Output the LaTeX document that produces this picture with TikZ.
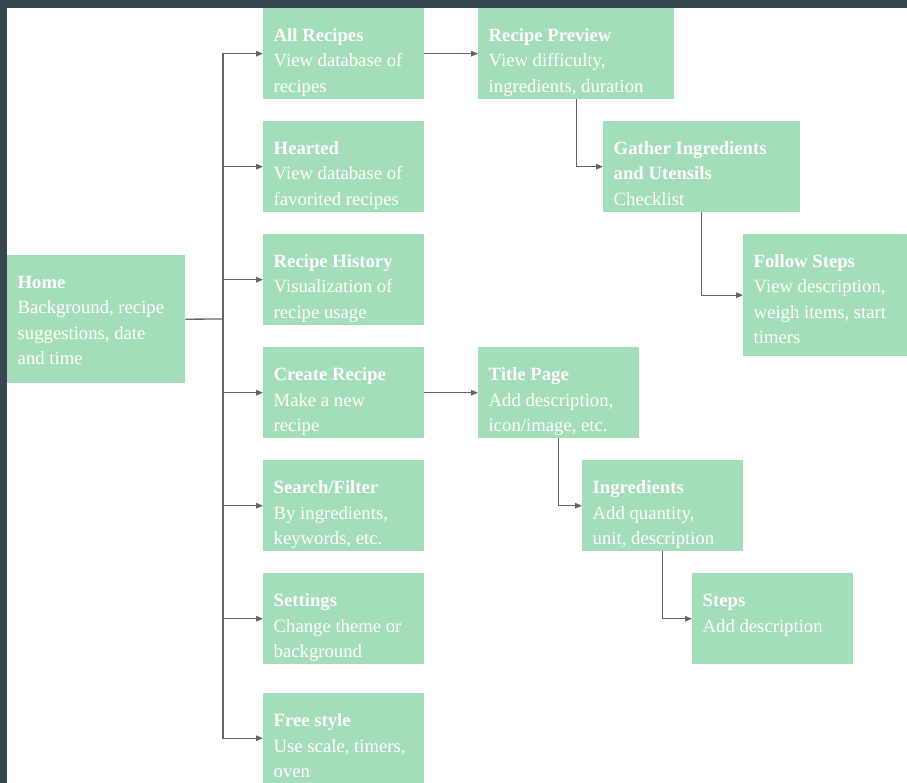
\documentclass[tikz,border=0pt]{standalone}
\usepackage{fontspec}
\setmainfont{Liberation Serif}[Extension=.ttf, UprightFont=LiberationSerif-Regular, BoldFont=LiberationSerif-Bold]
\usetikzlibrary{arrows.meta}
\definecolor{frame}{RGB}{55,71,79}
\definecolor{boxgreen}{RGB}{164,221,185}
\definecolor{linegray}{RGB}{100,100,100}
\tikzset{
  box/.style={fill=boxgreen, draw=none, inner sep=0pt},
  txt/.style={text=white, inner sep=0pt, font=\fontsize{18.7}{25.5}\selectfont},
  arr/.style={draw=linegray, line width=1.3pt, -{Triangle[length=7pt,width=5.5pt]}},
  plainline/.style={draw=linegray, line width=1.3pt}
}
\newcommand{\bx}[7]{%
  \node[box, minimum width=#4pt, minimum height=#5pt, anchor=north west] (#1) at (#2,#3) {};
  \node[txt, anchor=base west] (#1-t) at ({#2+10.5},{#3+33.5})
    {\parbox[t]{#4pt}{\raggedright\textbf{#6}\\#7}};
}
\begin{document}
\begin{tikzpicture}[x=1pt,y=-1pt]
\fill[frame] (0,0) rectangle (907,783);
\fill[white] (7,8) rectangle (907,783);
\useasboundingbox (0,0) rectangle (907,783);

\bx{home}{7}{255}{178}{128}{Home}{Background, recipe\\suggestions, date\\and time}
\bx{all}{263}{8}{161}{91}{All Recipes}{View database of\\recipes}
\bx{heart}{263}{121}{161}{91}{Hearted}{View database of\\favorited recipes}
\bx{hist}{263}{234}{161}{91}{Recipe History}{Visualization of\\recipe usage}
\bx{create}{263}{347}{161}{91}{Create Recipe}{Make a new\\recipe}
\bx{search}{263}{460}{161}{91}{Search/Filter}{By ingredients,\\keywords, etc.}
\bx{settings}{263}{573}{161}{91}{Settings}{Change theme or\\background}
\bx{free}{263}{693}{161}{90}{Free style}{Use scale, timers,\\oven}
\bx{preview}{478}{8}{196}{91}{Recipe Preview}{View difficulty,\\ingredients, duration}
\bx{gather}{603}{121}{197}{91}{Gather Ingredients\\and Utensils}{Checklist}
\bx{follow}{743}{234}{164}{122}{Follow Steps}{View description,\\weigh items, start\\timers}
\bx{title}{478}{347}{161}{91}{Title Page}{Add description,\\icon/image, etc.}
\bx{ingr}{582}{460}{161}{91}{Ingredients}{Add quantity,\\unit, description}
\bx{steps}{692}{573}{161}{91}{Steps}{Add description}

\coordinate (trunk) at (223,319);
\draw[plainline] (home.east) -- (trunk);
\foreach \c in {all,heart,hist,create,search,settings,free}
  \draw[arr] (trunk) |- (\c.west);
\draw[arr] (all.east) -- (preview.west);
\draw[arr] (preview.south) |- (gather.west);
\draw[arr] (gather.south) |- (follow.west);
\draw[arr] (create.east) -- (title.west);
\draw[arr] (title.south) |- (ingr.west);
\draw[arr] (ingr.south) |- (steps.west);
\end{tikzpicture}
\end{document}
